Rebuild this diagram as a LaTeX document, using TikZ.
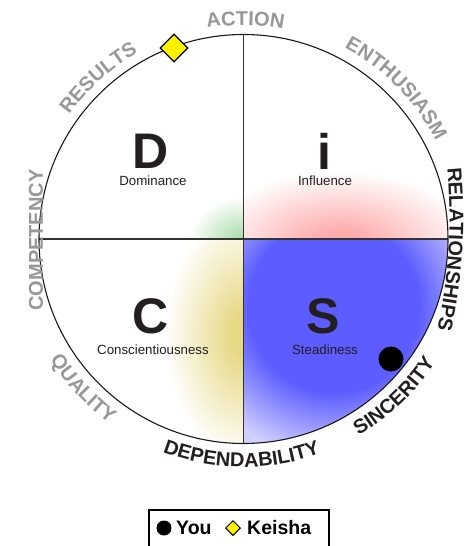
\documentclass[tikz,border=0pt]{standalone}
\usepackage{fontspec}
\setmainfont{Liberation Sans}
\usetikzlibrary{decorations.text,shapes.geometric}
\definecolor{lblgray}{RGB}{152,152,152}
\definecolor{lbldark}{RGB}{35,31,32}
\definecolor{sblue}{RGB}{92,92,255}
\definecolor{slight}{RGB}{208,208,255}
\definecolor{pinkc}{RGB}{255,170,170}
\definecolor{greenc}{RGB}{170,220,170}
\definecolor{yellowc}{RGB}{230,216,132}
\pgfdeclareradialshading{sglow}{\pgfpoint{0bp}{0bp}}{color(0bp)=(sblue); color(14bp)=(sblue); color(25bp)=(slight); color(50bp)=(slight)}
\pgfdeclareradialshading{pglow}{\pgfpoint{0bp}{0bp}}{color(0bp)=(pinkc); color(4bp)=(pinkc); color(25bp)=(white); color(50bp)=(white)}
\pgfdeclareradialshading{gglow}{\pgfpoint{0bp}{0bp}}{color(0bp)=(greenc); color(2bp)=(greenc); color(25bp)=(white); color(50bp)=(white)}
\pgfdeclareradialshading{yglow}{\pgfpoint{0bp}{0bp}}{color(0bp)=(yellowc); color(4bp)=(yellowc); color(25bp)=(white); color(50bp)=(white)}
\newcommand\lblfont{\bfseries\fontsize{20}{20}\selectfont}
\begin{document}
\begin{tikzpicture}[x=1pt,y=1pt,
  bigletter/.style={font=\bfseries\fontsize{50}{50}\selectfont, text=lbldark, inner sep=0},
  smalllbl/.style={font=\fontsize{13.3}{15}\selectfont, text=lbldark, inner sep=0},
  graylbl/.style={decorate, decoration={text along path, text={|\lblfont|#1}, text align=center, text color=lblgray}},
  darklbl/.style={decorate, decoration={text along path, text={|\lblfont|#1}, text align=center, text color=lbldark}},
  legendtxt/.style={font=\bfseries\fontsize{19.5}{20}\selectfont, anchor=base west, inner sep=0}]
\useasboundingbox (-243.5,-307) rectangle (227.5,239);
\fill[white] (-243.5,-307) rectangle (227.5,239);
% glows
\begin{scope}
  \clip (0,0) -- (0:204.5) arc[start angle=0, end angle=-90, radius=204.5] -- cycle;
  \fill[slight] (0,0) rectangle (205,-205);
  \shade[shading=sglow] (90,-68) circle (152);
\end{scope}
\begin{scope}
  \clip (0,0) -- (0:204.5) arc[start angle=0, end angle=90, radius=204.5] -- cycle;
  \shade[shading=pglow] (96.5,-6) ellipse (135 and 74);
\end{scope}
\begin{scope}
  \clip (0,0) -- (90:204.5) arc[start angle=90, end angle=180, radius=204.5] -- cycle;
  \shade[shading=gglow] (-2,-2) ellipse (52 and 44);
\end{scope}
\begin{scope}
  \clip (0,0) -- (180:204.5) arc[start angle=180, end angle=270, radius=204.5] -- cycle;
  \shade[shading=yglow] (1.5,-96) ellipse (80 and 125);
\end{scope}
% circle and axes
\draw[line width=1.6, black!80] (0,204.5) -- (0,-204.5);
\draw[line width=1.6, black!80] (-204.5,0) -- (204.5,0);
\draw[line width=1.1, black!90] (0,0) circle (204.5);
% quadrant texts
\node[bigletter] (D) at (-93,87.5) {D};
\node[smalllbl] (Dt) at (-90.5,58) {Dominance};
\node[bigletter] (I) at (80.5,88) {i};
\node[smalllbl] (It) at (81.5,58) {Influence};
\node[bigletter] (C) at (-93,-77) {C};
\node[smalllbl] (Ct) at (-90.5,-111) {Conscientiousness};
\node[bigletter] (S) at (79.5,-77) {S};
\node[smalllbl] (St) at (81.5,-111) {Steadiness};
% labels around
\path[graylbl=ACTION] (115:214) arc[start angle=115, end angle=64, radius=214];
\path[graylbl=RESULTS] (157:214) arc[start angle=157, end angle=107, radius=214];
\path[graylbl=ENTHUSIASM] (74.6:216) arc[start angle=74.6, end angle=14.6, radius=216];
\path[graylbl=COMPETENCY] (-200.5,-100) -- (-200.5,98);
\path[darklbl=RELATIONSHIPS] (197.9,115.4) arc[start angle=10, end angle=-17, radius=535];
\path[darklbl=SINCERITY] (288.75:228) arc[start angle=288.75, end angle=338.75, radius=228];
\path[darklbl=DEPENDABILITY] (239.5:228) arc[start angle=239.5, end angle=299.5, radius=228];
\path[graylbl=QUALITY] (198:228) arc[start angle=198, end angle=248, radius=228];
% markers
\node[circle, fill=black, minimum size=25, inner sep=0] (you) at (147.5,-120) {};
\node[diamond, draw=black, fill=yellow, line width=1.3, minimum size=28, inner sep=0] (keisha) at (-69.5,191) {};
% legend
\draw[line width=1.5, fill=white] (-94.5,-271) rectangle (85.5,-315);
\node[circle, fill=black, minimum size=15, inner sep=0] (lyou) at (-79.5,-289) {};
\node[legendtxt] (tyou) at (-67.5,-295.5) {You};
\node[diamond, draw=black, fill=yellow, line width=1, minimum size=15, inner sep=0] (lkei) at (-10.5,-289) {};
\node[legendtxt] (tkei) at (3.5,-295.5) {Keisha};
\end{tikzpicture}
\end{document}
